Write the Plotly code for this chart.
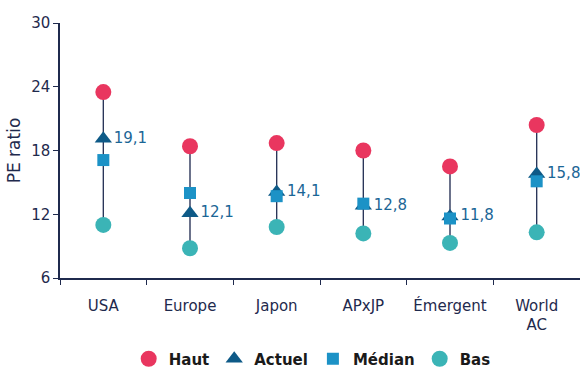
import plotly.graph_objects as go

categories = ["USA", "Europe", "Japon", "APxJP", "Émergent", "World<br>AC"]
haut = [23.5, 18.4, 18.7, 18.0, 16.5, 20.4]
actuel = [19.1, 12.1, 14.1, 12.8, 11.8, 15.8]
median = [17.1, 14.0, 13.7, 13.0, 11.6, 15.1]
bas = [11.0, 8.8, 10.8, 10.2, 9.3, 10.3]
y_ticks = [6, 12, 18, 24, 30]

FONT = "DejaVu Sans"
NAVY = "#1f2a4d"

# vertical range lines
lx, ly = [], []
for c, lo, hi in zip(categories, bas, haut):
    lx += [c, c, None]
    ly += [lo, hi, None]

fig = go.Figure()
fig.add_trace(go.Scatter(x=lx, y=ly, mode="lines", line=dict(color="#2b3659", width=1.4),
                         showlegend=False, hoverinfo="skip"))
fig.add_trace(go.Scatter(x=categories, y=bas, mode="markers", name="Bas", legendrank=4,
                         marker=dict(symbol="circle", size=16, color="#3bb4b6")))
fig.add_trace(go.Scatter(x=categories, y=haut, mode="markers", name="Haut", legendrank=1,
                         marker=dict(symbol="circle", size=16, color="#e9365f")))
fig.add_trace(go.Scatter(x=categories, y=actuel, mode="markers+text", name="Actuel", legendrank=2,
                         marker=dict(symbol="triangle-up", size=15, color="#0e5a87"),
                         text=[f"{v:.1f}".replace(".", ",") for v in actuel],
                         textposition="middle right",
                         textfont=dict(family=FONT, size=15, color="#1b6696")))
fig.add_trace(go.Scatter(x=categories, y=median, mode="markers", name="Médian", legendrank=3,
                         marker=dict(symbol="square", size=12, color="#1c92c6")))

fig.update_layout(
    width=580, height=372,
    margin=dict(l=60, r=0, t=23, b=94),
    paper_bgcolor="white", plot_bgcolor="white",
    font=dict(family=FONT, size=15, color=NAVY),
    legend=dict(orientation="h", x=0.485, xanchor="center",
                yref="container", y=0.035, yanchor="middle",
                font=dict(family=FONT, size=15, color="#1a1a1a", weight="bold"),
                itemwidth=30, tracegroupgap=0),
)
fig.update_xaxes(type="category", range=[-0.5, 5.5], showline=True, linecolor=NAVY, linewidth=1.5,
                 ticks="outside", tickson="boundaries", ticklen=5, tickcolor=NAVY,
                 showgrid=False, zeroline=False, ticklabelstandoff=13,
                 tickfont=dict(size=15, color=NAVY))
fig.update_yaxes(range=[6, 30], tickvals=y_ticks, showline=True, linecolor=NAVY, linewidth=1.5,
                 ticks="outside", ticklen=5, tickcolor=NAVY, showgrid=False, zeroline=False,
                 title=dict(text="PE ratio", font=dict(size=17, color=NAVY), standoff=6),
                 tickfont=dict(size=15, color=NAVY))

fig.write_html("out.html")
